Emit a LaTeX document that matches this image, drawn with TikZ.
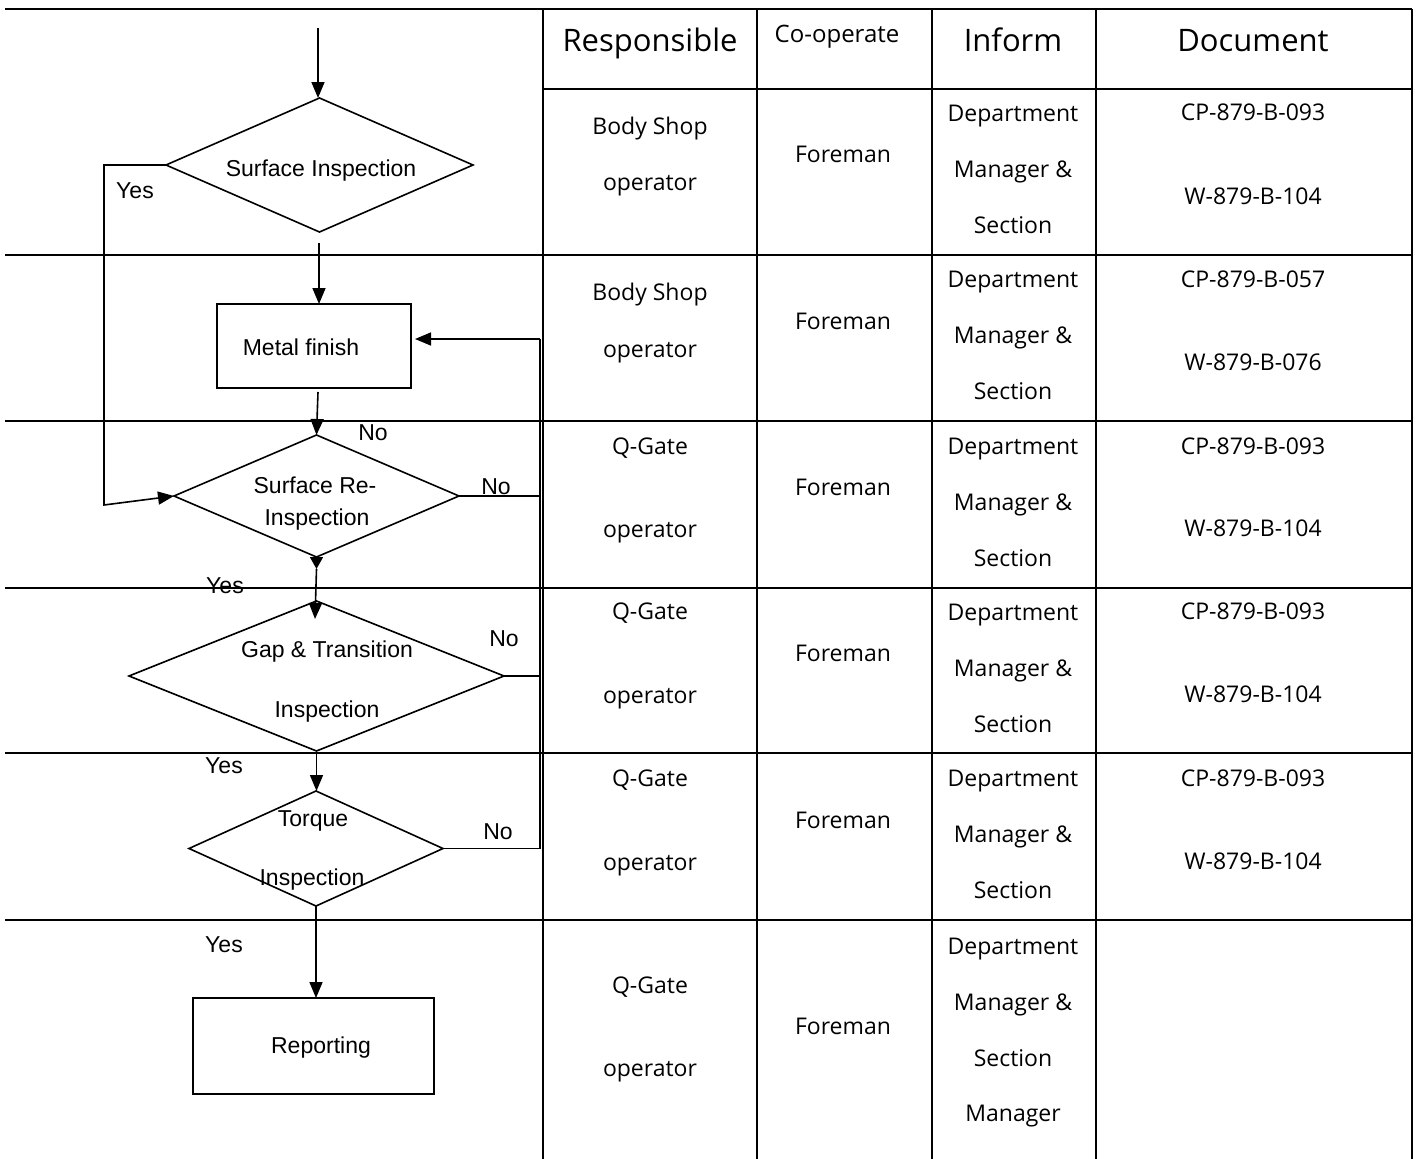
\documentclass[tikz,border=0pt]{standalone}
\usepackage{fontspec}
\setmainfont{Liberation Sans}
\newfontfamily\tabfont{Open Sans}
\usetikzlibrary{shapes.geometric,arrows.meta}
\begin{document}
\begin{tikzpicture}[x=1pt,y=-1pt,
  tline/.style={line width=2.2pt},
  fline/.style={line width=1.6pt},
  arr/.style={fline,-{Triangle[length=16pt,width=13pt]}},
  smallarr/.style={fline,-{Triangle[length=12pt,width=13pt]}},
  dia/.style={diamond,draw,fline,inner sep=0pt,outer sep=0pt},
  procbox/.style={rectangle,draw,fline,inner sep=0pt,outer sep=0pt},
  ft/.style={font=\fontsize{23}{28}\selectfont,inner sep=0pt,anchor=base},
  tt/.style={font=\tabfont\fontsize{23}{28}\selectfont,inner sep=0pt,anchor=base},
  ht/.style={font=\tabfont\fontsize{31}{36}\selectfont,inner sep=0pt,anchor=base},
  cht/.style={font=\tabfont\fontsize{24}{28}\selectfont,inner sep=0pt,anchor=base},
]
\useasboundingbox (0,0) rectangle (1419,1159);
\fill[white] (0,0) rectangle (1419,1159);

% ---------- table grid ----------
\draw[tline] (5,9) -- (1412,9);
\draw[tline] (543,89) -- (1412,89);
\foreach \yy in {255,421,588,753,920} \draw[tline] (5,\yy) -- (1412,\yy);
\foreach \xx in {543,757,932,1096,1412} \draw[tline] (\xx,9) -- (\xx,1159);

% ---------- header ----------
\node[ht] (hResp) at (650,51) {Responsible};
\node[cht] (hCoop) at (837,42) {Co-operate};
\node[ht] (hInf) at (1013,51) {Inform};
\node[ht] (hDoc) at (1253,51) {Document};

% ---------- table body ----------
\foreach \t/\yy [count=\i] in {Body Shop/126, operator/182, Body Shop/292, operator/349,
    Q-Gate/446, operator/529, Q-Gate/611, operator/695, Q-Gate/778, operator/862,
    Q-Gate/985, operator/1068}
  \node[tt] (r\i) at (650,{\yy+8}) {\t};
\foreach \yy [count=\i] in {154,321,487,653,820,1026}
  \node[tt] (c\i) at (843,{\yy+8}) {Foreman};
\foreach \t/\yy [count=\i] in {Department/113, Manager \&/169, Section/225,
    Department/279, Manager \&/335, Section/391,
    Department/446, Manager \&/502, Section/558,
    Department/612, Manager \&/668, Section/724,
    Department/778, Manager \&/834, Section/890,
    Department/946, Manager \&/1002, Section/1058, Manager/1113}
  \node[tt] (i\i) at (1013,{\yy+8}) {\t};
\foreach \t/\yy [count=\i] in {CP-879-B-093/112, W-879-B-104/196,
    CP-879-B-057/279, W-879-B-076/362,
    CP-879-B-093/446, W-879-B-104/528,
    CP-879-B-093/611, W-879-B-104/694,
    CP-879-B-093/778, W-879-B-104/861}
  \node[tt] (dc\i) at (1253,{\yy+8}) {\t};

% ---------- flowchart shapes ----------
\node[dia,minimum width=307pt,minimum height=134pt] (d1) at (319.5,165) {};
\node[ft] (d1t) at (321,176) {Surface Inspection};

\node[procbox,minimum width=194pt,minimum height=84pt] (mf) at (314,346) {};
\node[ft] (mft) at (301,355) {Metal finish};

\node[dia,minimum width=285pt,minimum height=122pt] (d2) at (316.5,496) {};
\node[ft] (d2a) at (315,493) {Surface Re-};
\node[ft] (d2b) at (317,525) {Inspection};

\node[dia,minimum width=375pt,minimum height=150pt] (d3) at (316.5,676) {};
\node[ft] (d3a) at (327,657) {Gap \& Transition};
\node[ft] (d3b) at (327,717) {Inspection};

\node[dia,minimum width=254pt,minimum height=115pt] (d4) at (316,848.5) {};
\node[ft] (d4a) at (313,826) {Torque};
\node[ft] (d4b) at (312,885) {Inspection};

\node[procbox,minimum width=241pt,minimum height=96pt] (rep) at (313.5,1046) {};
\node[ft] (rept) at (321,1053) {Reporting};

% ---------- connectors ----------
\coordinate (start) at (318,28);
\draw[arr] (start) -- (d1.north -| start);

\coordinate (d1s) at (319,243);
\draw[arr] (d1s) -- (d1s |- mf.north);

\coordinate (mfs) at (318,392);
\draw[arr] (mfs) -- (d2.north);

\coordinate (d2tip) at (316.5,569);
\draw[smallarr] (d2.south) -- (d2tip);
\coordinate (d3in) at (315,619);
\draw[arr] (d2tip) -- (d3in);

\draw[arr] (d3.south) -- (d3.south |- d4.north);
\draw[arr] (d4.south) -- (d4.south |- rep.north);

% Yes branch from Surface Inspection to Surface Re-Inspection
\coordinate (yl1) at (104,165);
\coordinate (yl2) at (104,505);
\draw[arr] (d1.west) -- (yl1) -- (yl2) -- (d2.west);

% No return line
\coordinate (rt) at (540,339);
\coordinate (rb) at (540,849);
\draw[fline] (rb) -- (rt);
\draw[arr,shorten >=4pt] (rt) -- (rt -| mf.east);
\draw[fline] (d2.east) -- (d2.east -| rt);
\draw[fline] (d3.east) -- (d3.east -| rt);
\draw[fline] (d4.east) -- (d4.east -| rt);

% ---------- labels ----------
\node[ft] (y1) at (135,198) {Yes};
\node[ft] (n1) at (373,440) {No};
\node[ft] (n2) at (496,494) {No};
\node[ft] (y2) at (225,593) {Yes};
\node[ft] (n3) at (504,646) {No};
\node[ft] (y3) at (224,773) {Yes};
\node[ft] (n4) at (498,839) {No};
\node[ft] (y4) at (224,952) {Yes};
\end{tikzpicture}
\end{document}
